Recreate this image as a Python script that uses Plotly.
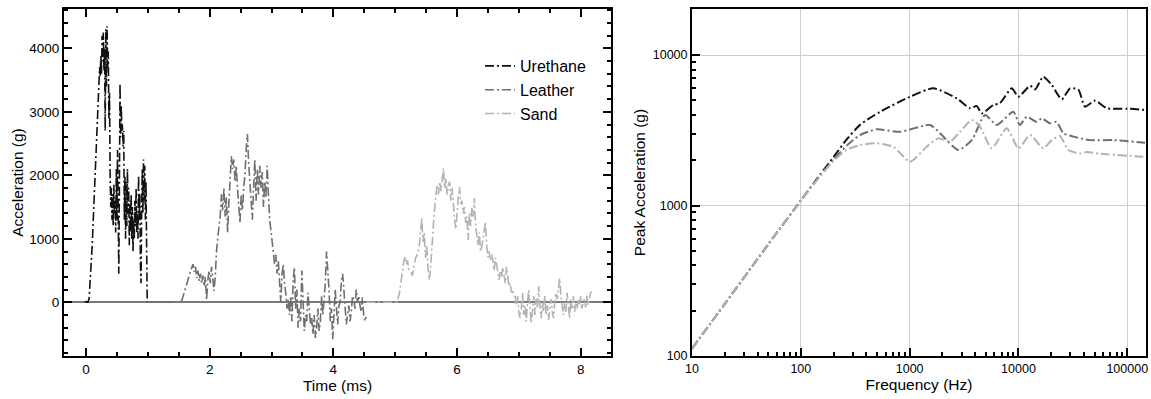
import plotly.graph_objects as go

# ---------------- Left panel: time histories ----------------
ure_t = [-0.02, 0.0, 0.03, 0.05, 0.10, 0.15, 0.20, 0.22, 0.23, 0.24, 0.25, 0.26, 0.27, 0.28, 0.29, 0.30,
         0.31, 0.32, 0.33, 0.34, 0.35, 0.36, 0.37, 0.38, 0.39, 0.40, 0.41, 0.42, 0.43, 0.44, 0.45, 0.46,
         0.47, 0.48, 0.49, 0.50, 0.51, 0.52, 0.53, 0.54, 0.55, 0.56, 0.57, 0.58, 0.59, 0.60, 0.61, 0.62,
         0.63, 0.64, 0.65, 0.66, 0.67, 0.68, 0.69, 0.70, 0.71, 0.72, 0.73, 0.74, 0.75, 0.76, 0.77, 0.78,
         0.79, 0.80, 0.81, 0.82, 0.83, 0.84, 0.85, 0.86, 0.87, 0.88, 0.89, 0.90, 0.91, 0.92, 0.93, 0.94,
         0.95, 0.96, 0.97, 0.98, 0.99]
ure_a = [0, 10, 0, 60, 900, 2100, 3300, 3700, 3550, 3900, 3600, 4200, 3800, 4250, 3650, 4000,
         2700, 4300, 3400, 4350, 3700, 3950, 2900, 3300, 2000, 1500, 1800, 1300, 1700, 1200, 1850, 1400,
         1600, 1100, 2100, 1300, 2400, 900, 450, 1800, 3450, 2600, 3100, 2700, 2800, 2450, 2700, 1300,
         2000, 1000, 1900, 1200, 2100, 1400, 1800, 900, 1600, 1100, 1700, 1000, 1500, 800, 1300, 1000,
         1600, 1200, 1800, 1100, 1400, 1000, 2000, 1300, 1700, 600, 300, 1500, 2100, 1400, 2250, 1600,
         2150, 1300, 1900, 900, 0]

lea_t = [0.99, 1.2, 1.4, 1.52, 1.55, 1.60, 1.65, 1.70, 1.73, 1.75, 1.77, 1.79, 1.81, 1.83, 1.85, 1.87,
         1.89, 1.91, 1.93, 1.95, 1.97, 1.99, 2.01, 2.03, 2.05, 2.07, 2.09, 2.11, 2.14, 2.17, 2.19, 2.21,
         2.23, 2.25, 2.27, 2.29, 2.31, 2.33, 2.35, 2.37, 2.39, 2.41, 2.43, 2.45, 2.47, 2.49, 2.51, 2.53,
         2.55, 2.57, 2.59, 2.61, 2.63, 2.65, 2.67, 2.69, 2.71, 2.73, 2.75, 2.77, 2.79, 2.81, 2.83, 2.85,
         2.87, 2.89, 2.91, 2.93, 2.95, 2.97, 3.00, 3.03, 3.05, 3.07, 3.09, 3.11, 3.13, 3.15, 3.17, 3.19,
         3.21, 3.23, 3.25, 3.27, 3.29, 3.31, 3.33, 3.35, 3.37, 3.39, 3.41, 3.43, 3.45, 3.47, 3.49, 3.51,
         3.53, 3.55, 3.57, 3.59, 3.61, 3.63, 3.65, 3.67, 3.69, 3.71, 3.73, 3.75, 3.77, 3.79, 3.81, 3.83,
         3.85, 3.87, 3.89, 3.91, 3.93, 3.95, 3.97, 3.99, 4.01, 4.03, 4.05, 4.07, 4.09, 4.11, 4.13, 4.15,
         4.17, 4.19, 4.21, 4.23, 4.25, 4.27, 4.29, 4.31, 4.33, 4.35, 4.37, 4.39, 4.41, 4.43, 4.45, 4.47,
         4.49, 4.51, 4.53]
lea_a = [0, 0, 10, 0, 30, 200, 380, 520, 600, 480, 560, 380, 500, 330, 450, 300,
         420, 250, 400, 40, 350, 500, 300, 560, 380, 180, 400, 800, 1100, 1350, 1700, 1450,
         1800, 1350, 1650, 1100, 1550, 1900, 2300, 2100, 2250, 1900, 2150, 1800, 1500, 1250, 1700, 1450,
         1800, 2000, 2400, 2650, 2200, 1900, 1500, 1300, 1800, 2250, 1600, 2100, 1700, 2150, 1800, 2050,
         1500, 1900, 1650, 2150, 1700, 1300, 1050, 800, 600, 750, 450, 650, 300, 0, 450, 600,
         300, 150, -100, 50, -200, 100, -300, 350, 550, -100, 200, -400, -100, -300, 500, 100,
         -450, -200, -300, 150, -100, -350, -250, -500, -200, -560, -400, -100, -450, -300, 100, -200,
         50, 300, 800, 550, 200, -300, -100, -580, -200, 200, -100, -350, -50, 0, 350, 450,
         200, -100, -350, -200, -50, -300, -150, 100, 50, -100, 200, 0, 100, -50, -150, 80,
         -200, -300, -230]

san_t = [4.53, 4.7, 4.9, 5.03, 5.07, 5.11, 5.14, 5.16, 5.18, 5.20, 5.22, 5.25, 5.28, 5.30, 5.33, 5.36,
         5.39, 5.41, 5.43, 5.45, 5.47, 5.49, 5.51, 5.53, 5.55, 5.57, 5.60, 5.63, 5.66, 5.68, 5.70, 5.72,
         5.74, 5.76, 5.78, 5.80, 5.82, 5.84, 5.86, 5.88, 5.90, 5.92, 5.94, 5.96, 5.98, 6.00, 6.02, 6.04,
         6.06, 6.08, 6.10, 6.12, 6.14, 6.16, 6.18, 6.20, 6.22, 6.24, 6.26, 6.28, 6.30, 6.32, 6.34, 6.36,
         6.38, 6.40, 6.42, 6.44, 6.46, 6.48, 6.50, 6.52, 6.54, 6.56, 6.58, 6.60, 6.62, 6.64, 6.66, 6.68,
         6.70, 6.72, 6.74, 6.76, 6.78, 6.80, 6.82, 6.84, 6.86, 6.88, 6.90, 6.92, 6.94, 6.96, 6.98, 7.00,
         7.02, 7.04, 7.06, 7.08, 7.10, 7.12, 7.14, 7.16, 7.18, 7.20, 7.22, 7.24, 7.26, 7.28, 7.30, 7.32,
         7.34, 7.36, 7.38, 7.40, 7.42, 7.44, 7.46, 7.48, 7.50, 7.52, 7.54, 7.56, 7.58, 7.60, 7.62, 7.64,
         7.66, 7.68, 7.70, 7.72, 7.74, 7.76, 7.78, 7.80, 7.82, 7.84, 7.86, 7.88, 7.90, 7.92, 7.94, 7.96,
         7.98, 8.00, 8.02, 8.04, 8.06, 8.08, 8.10, 8.12, 8.14, 8.16, 8.18]
san_a = [0, 0, 10, 0, 150, 450, 650, 720, 600, 660, 500, 480, 420, 560, 700, 750,
         900, 1100, 1330, 950, 1100, 700, 900, 550, 350, 500, 1000, 1400, 1700, 1850, 1700, 1900,
         1750, 1950, 2110, 1800, 1950, 1700, 1850, 1900, 1600, 1800, 1500, 1300, 1150, 1450, 1650, 1820,
         1550, 1600, 1400, 1500, 1250, 1350, 980, 1400, 1200, 1500, 1350, 1640, 1200, 1050, 900, 1100,
         800, 875, 1000, 1150, 1270, 900, 710, 800, 650, 750, 665, 500, 700, 600, 450, 350,
         500, 400, 550, 450, 300, 560, 350, 250, 300, 150, 200, 100, 90, -50, 100, -170,
         -250, -100, 150, -200, -50, -300, 0, 200, -100, -330, -150, 100, -200, 50, -100, 250,
         -50, -250, 0, -150, 100, -200, -50, -280, -100, 50, -150, -250, 0, 150, 50, 250,
         380, 100, -50, -200, 0, -150, 150, -100, -250, 50, -100, 100, -150, 0, -100, 50,
         -50, 100, -100, 0, 50, -80, 100, -50, 50, 150, 170]

# ---------------- Right panel: shock spectra ----------------
ure_f = [10, 20, 50, 100, 150, 200, 264, 350, 535, 1009, 1653, 2710, 3590, 4140, 4600, 5890, 6760,
         8670, 10000, 12800, 14200, 16900, 20200, 25000, 29800, 35500, 40900, 50600, 64800, 100000, 145600]
ure_p = [112, 222, 550, 1080, 1600, 2100, 2750, 3435, 4200, 5285, 6010, 5150, 4430, 4580, 4100, 4660, 4790,
         6010, 5285, 6250, 5900, 7180, 6330, 5080, 6010, 5900, 4540, 4980, 4430, 4400, 4320]

lea_f = [10, 20, 50, 100, 150, 200, 264, 350, 498, 817, 1540, 1900, 2810, 3720, 4930, 6320, 8970,
         10300, 11900, 14700, 16400, 19500, 22400, 25900, 32000, 45500, 74500, 145600]
lea_p = [112, 222, 550, 1080, 1580, 2020, 2500, 2940, 3210, 3090, 3430, 3020, 2340, 2720, 3990, 3430, 4200,
         3430, 3890, 3600, 3800, 3520, 3600, 3020, 2870, 2720, 2720, 2610]

san_f = [10, 20, 50, 100, 150, 200, 264, 350, 498, 708, 1009, 1435, 1840, 2350, 2900, 3720, 4440, 5680,
         7800, 10000, 12800, 16900, 20200, 24000, 28800, 36800, 42700, 56200, 140600]
san_p = [112, 222, 550, 1080, 1560, 1980, 2350, 2520, 2590, 2460, 1955, 2460, 2800, 2660, 3090, 3700, 3340, 2400,
         3260, 2400, 2940, 2400, 2720, 2900, 2340, 2220, 2270, 2210, 2110]

names = ["Urethane", "Leather", "Sand"]
colors = ["#111111", "#6f6f6f", "#b3b3b3"]

left_xticks = [0, 2, 4, 6, 8]
left_yticks = [0, 1000, 2000, 3000, 4000]
right_xticks = [10, 100, 1000, 10000, 100000]
right_yticks = [100, 1000, 10000]

DASH = "9px,3px,2px,3px"
FONT = "Liberation Sans, Arial, sans-serif"

fig = go.Figure()
for nm, col, t, a in zip(names, colors, [ure_t, lea_t, san_t], [ure_a, lea_a, san_a]):
    fig.add_trace(go.Scatter(x=t, y=a, mode="lines", name=nm,
                             line=dict(color=col, width=1.6, dash=DASH),
                             xaxis="x", yaxis="y"))
for nm, col, f, p in zip(names, colors, [ure_f, lea_f, san_f], [ure_p, lea_p, san_p]):
    fig.add_trace(go.Scatter(x=f, y=p, mode="lines", name=nm, showlegend=False,
                             line=dict(color=col, width=2, dash=DASH, shape="spline", smoothing=0.6),
                             xaxis="x2", yaxis="y2"))

# body margin is removed in post_script, so figure pixel = page pixel
W, H = 1151, 399


def px(v):
    return v / W


def py(v):
    return 1 - v / H


ax_common = dict(showline=True, linecolor="black", linewidth=2, ticks="inside",
                 tickcolor="black", tickwidth=2, ticklen=8, automargin=False,
                 title_font=dict(family=FONT, size=15.5, color="black"))
left_tf = dict(family=FONT, size=13.5, color="black")
right_tf = dict(family=FONT, size=12.5, color="black")

fig.update_layout(
    width=W, height=H,
    margin=dict(l=0, r=0, t=0, b=0),
    paper_bgcolor="white", plot_bgcolor="white",
    font=dict(family=FONT, color="black"),
    showlegend=True,
    legend=dict(x=px(480), y=py(49), xanchor="left", yanchor="top",
                bgcolor="rgba(0,0,0,0)", font=dict(family=FONT, size=16, color="black"),
                tracegroupgap=0),
    xaxis=dict(domain=[px(64), px(611)], range=[-0.356, 8.49], tickvals=left_xticks,
               mirror="ticks", showgrid=False, zeroline=False, tickfont=left_tf,
               minor=dict(dtick=0.5, ticks="inside", ticklen=4, tickwidth=1.5, tickcolor="black"),
               title=dict(text="Time (ms)", standoff=4), anchor="y", **ax_common),
    yaxis=dict(domain=[py(356), py(9)], range=[-846, 4620], tickvals=left_yticks,
               mirror="ticks", showgrid=False, zeroline=True, zerolinecolor="#7a7a7a", zerolinewidth=2,
               tickfont=left_tf,
               minor=dict(dtick=200, ticks="inside", ticklen=4, tickwidth=1.5, tickcolor="black"),
               title=dict(text="Acceleration (g)", standoff=2), anchor="x", **ax_common),
    xaxis2=dict(domain=[px(692), px(1146)], type="log", range=[1, 5.172], tickvals=right_xticks,
                ticktext=[str(v) for v in right_xticks], mirror=True, tickfont=right_tf,
                showgrid=True, gridcolor="#cfcfcf", gridwidth=1, zeroline=False,
                minor=dict(dtick="D1", ticks="inside", ticklen=4, tickwidth=1.5, tickcolor="black", showgrid=False),
                title=dict(text="Frequency (Hz)", standoff=4), anchor="y2", **ax_common),
    yaxis2=dict(domain=[py(356), py(9)], type="log", range=[2, 4.306], tickvals=right_yticks,
                ticktext=[str(v) for v in right_yticks], mirror=True, tickfont=right_tf,
                showgrid=True, gridcolor="#cfcfcf", gridwidth=1, zeroline=False,
                minor=dict(dtick="D1", ticks="inside", ticklen=4, tickwidth=1.5, tickcolor="black", showgrid=False),
                title=dict(text="Peak Acceleration (g)", standoff=3), anchor="x2", **ax_common),
)

fig.write_html("out.html", config={"displayModeBar": False},
               post_script="document.body.style.margin='0';document.body.style.overflow='hidden';")
